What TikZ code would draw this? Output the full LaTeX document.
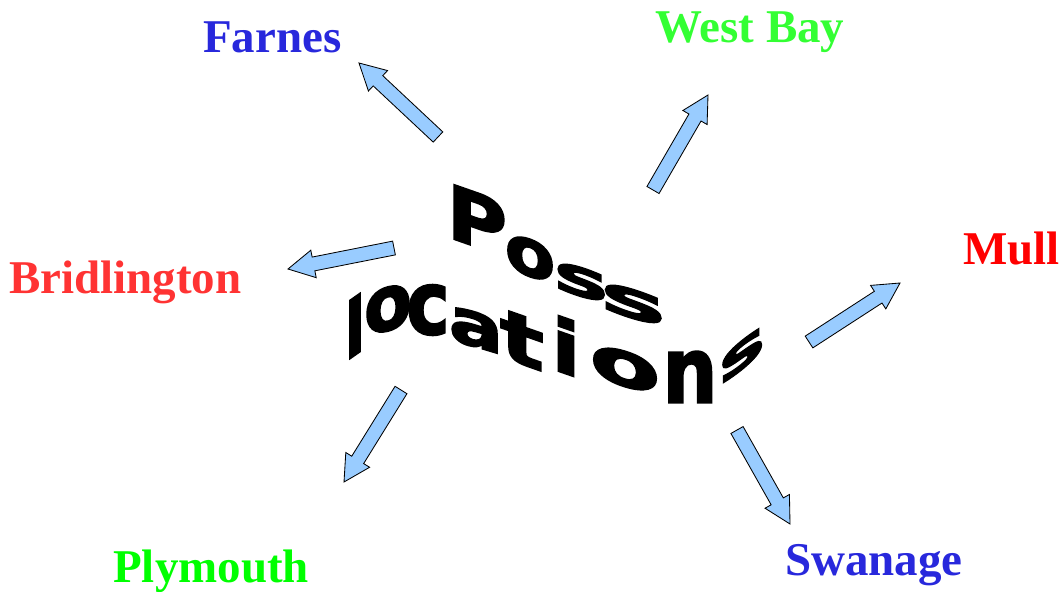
\documentclass[tikz,border=0pt]{standalone}
\usepackage{fontspec}
\setmainfont{Liberation Serif}
\newfontfamily\wavefont{DejaVu Sans}[BoldFeatures={FakeBold=2.5}]
\usetikzlibrary{calc}

\definecolor{placeblue}{RGB}{40,40,220}
\definecolor{placegreen}{RGB}{51,255,51}
\definecolor{plygreen}{RGB}{0,255,0}
\definecolor{placered}{RGB}{255,51,51}
\definecolor{mullred}{RGB}{255,0,0}
\definecolor{arrowfill}{RGB}{153,204,255}

% block arrow from tail coordinate #1 to tip coordinate #2
\newcommand{\blockarrow}[2]{%
  \coordinate (#2-base) at ($(#2)!0.65cm!(#1)$);
  \draw[blockarrow] ($(#1)!0.175cm!90:(#2)$) -- ($(#2-base)!0.175cm!90:(#2)$)
    -- ($(#2-base)!0.35cm!90:(#2)$) -- (#2) -- ($(#2-base)!0.35cm!-90:(#2)$)
    -- ($(#2-base)!0.175cm!-90:(#2)$) -- ($(#1)!0.175cm!-90:(#2)$) -- cycle;
}

\begin{document}
\begin{tikzpicture}[x=0.025cm, y=-0.025cm,
  place/.style={font=\fontsize{33.4}{40}\selectfont\bfseries, anchor=base west, inner sep=0pt},
  wordart/.style={font=\fontsize{52}{60}\selectfont\wavefont\bfseries, inner sep=0pt, text=black},
  blockarrow/.style={draw=black, fill=arrowfill, line width=0.6pt, line join=miter}
  ]
	\useasboundingbox (0,0) rectangle (1062,591);

	% place names
	\node[place, text=placeblue] (farnes) at (203,53) {Farnes};
	\node[place, text=placegreen] (westbay) at (655,43) {West Bay};
	\node[place, text=placered] (bridlington) at (9,293) {Bridlington};
	\node[place, text=mullred] (mull) at (963,264) {Mull};
	\node[place, text=plygreen] (plymouth) at (113,582) {Plymouth};
	\node[place, text=placeblue] (swanage) at (785,575) {Swanage};

	% wavy title, one letter at a time
	\foreach \ch/\x/\y/\sl/\xs/\ys/\nm in {
	    P/477/220/-0.35/1.12/1.02/poss1, o/530/258/-0.35/1.0/0.9/poss2,
	    s/581/282/-0.3/1.25/0.7/poss3, s/633/304/-0.3/1.5/0.7/poss4,
	    l/355/326/0.7/0.8/1.05/loc1, o/388/309/0.25/0.95/1.05/loc2,
	    c/428/310/0/1.0/1.2/loc3, a/476/330/-0.3/1.1/0.85/loc4,
	    t/522/340/-0.35/1.25/0.95/loc5, i/566/346/-0.35/1.15/1/loc6,
	    o/625/369/-0.3/1.4/0.85/loc7, n/690/377/0/1.05/1.25/loc8,
	    s/742/355/0.8/1.05/0.7/loc9}
	  \node[wordart, yslant=\sl, xscale=\xs, yscale=\ys] (\nm) at (\x,\y) {\ch};

	% arrows out to the places
	\coordinate (farnes-tail) at (438,137);
	\coordinate (farnes-tip) at (359,63);
	\coordinate (westbay-tail) at (653,190);
	\coordinate (westbay-tip) at (708,95);
	\coordinate (bridlington-tail) at (394,248);
	\coordinate (bridlington-tip) at (288,269);
	\coordinate (mull-tail) at (809,342);
	\coordinate (mull-tip) at (900,283);
	\coordinate (swanage-tail) at (737,430);
	\coordinate (swanage-tip) at (790,524);
	\coordinate (plymouth-tail) at (401,390);
	\coordinate (plymouth-tip) at (344,482);

	\blockarrow{farnes-tail}{farnes-tip}
	\blockarrow{westbay-tail}{westbay-tip}
	\blockarrow{bridlington-tail}{bridlington-tip}
	\blockarrow{mull-tail}{mull-tip}
	\blockarrow{swanage-tail}{swanage-tip}
	\blockarrow{plymouth-tail}{plymouth-tip}
\end{tikzpicture}
\end{document}
